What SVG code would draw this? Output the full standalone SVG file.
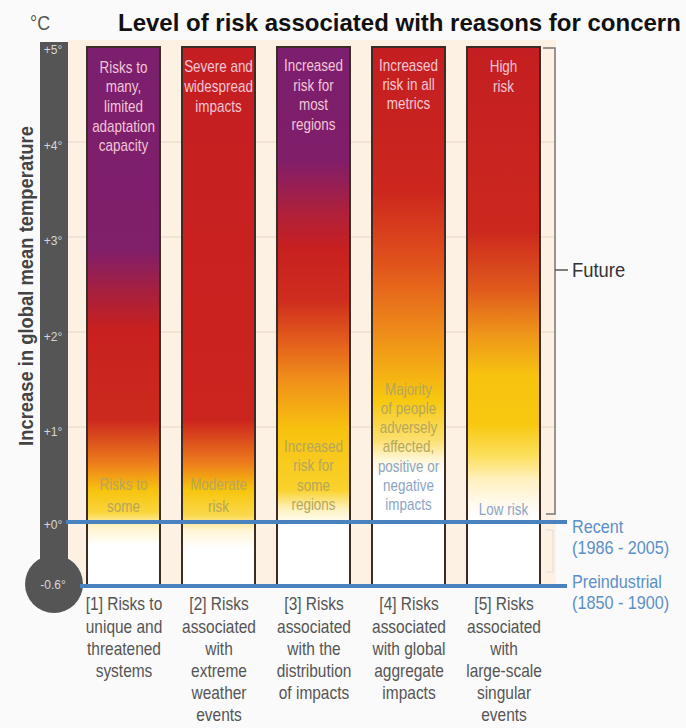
<svg xmlns="http://www.w3.org/2000/svg" width="686" height="728" viewBox="0 0 686 728">
<defs>
<style>
text{font-family:"Liberation Sans",Arial,sans-serif}
.title{font-weight:bold;font-size:24px;fill:#111}
.unit{font-size:21px;fill:#555}
.axis{font-weight:bold;font-size:20px;fill:#444}
.tick{font-size:12px;fill:#d8d8d8;text-anchor:middle}
.top{font-size:16px;fill:#f3c6d6;text-anchor:middle}
.low{font-size:16px;fill:#b5a65c;text-anchor:middle}
.lowb{font-size:16px;fill:#8ca5c4;text-anchor:middle}
.lab{font-size:18px;fill:#555;text-anchor:middle}
.ref{font-size:18px;fill:#5b8fc7}
.fut{font-size:20px;fill:#333}
.bar{stroke:#3d2b25;stroke-width:2}
.grid{stroke:#e6d4c0;stroke-width:1}
.blue{stroke:#4a82c0;stroke-width:4}
</style>
<linearGradient id="g1" x1="0" y1="0" x2="0" y2="1">
<stop offset="0" stop-color="#7b1f6e"/>
<stop offset="0.377" stop-color="#801f6a"/>
<stop offset="0.45" stop-color="#a52040"/>
<stop offset="0.525" stop-color="#c8201f"/>
<stop offset="0.692" stop-color="#cc2a1e"/>
<stop offset="0.77" stop-color="#ec7a1c"/>
<stop offset="0.822" stop-color="#f7c30e"/>
<stop offset="0.863" stop-color="#fad53a"/>
<stop offset="0.889" stop-color="#fff3c8"/>
<stop offset="0.924" stop-color="#ffffff"/>
<stop offset="1" stop-color="#ffffff"/>
</linearGradient>
<linearGradient id="g2" x1="0" y1="0" x2="0" y2="1">
<stop offset="0" stop-color="#c41e22"/>
<stop offset="0.692" stop-color="#cc241e"/>
<stop offset="0.77" stop-color="#ec7a1c"/>
<stop offset="0.822" stop-color="#f7c50c"/>
<stop offset="0.868" stop-color="#fad84a"/>
<stop offset="0.896" stop-color="#fff5d5"/>
<stop offset="0.93" stop-color="#ffffff"/>
<stop offset="1" stop-color="#ffffff"/>
</linearGradient>
<linearGradient id="g3" x1="0" y1="0" x2="0" y2="1">
<stop offset="0" stop-color="#7b1f6e"/>
<stop offset="0.21" stop-color="#801e6a"/>
<stop offset="0.31" stop-color="#b0203a"/>
<stop offset="0.377" stop-color="#c8201f"/>
<stop offset="0.47" stop-color="#cf2d1e"/>
<stop offset="0.544" stop-color="#e25c1c"/>
<stop offset="0.618" stop-color="#f0901a"/>
<stop offset="0.71" stop-color="#f7c20f"/>
<stop offset="0.822" stop-color="#f9d22c"/>
<stop offset="0.855" stop-color="#fdf0b8"/>
<stop offset="0.887" stop-color="#ffffff"/>
<stop offset="1" stop-color="#ffffff"/>
</linearGradient>
<linearGradient id="g4" x1="0" y1="0" x2="0" y2="1">
<stop offset="0" stop-color="#c41e22"/>
<stop offset="0.265" stop-color="#cc261e"/>
<stop offset="0.395" stop-color="#e0501c"/>
<stop offset="0.525" stop-color="#ee8a1a"/>
<stop offset="0.6" stop-color="#f4ad14"/>
<stop offset="0.655" stop-color="#f7c80f"/>
<stop offset="0.73" stop-color="#fbe070"/>
<stop offset="0.766" stop-color="#fff6d8"/>
<stop offset="0.794" stop-color="#ffffff"/>
<stop offset="1" stop-color="#ffffff"/>
</linearGradient>
<linearGradient id="g5" x1="0" y1="0" x2="0" y2="1">
<stop offset="0" stop-color="#c41e22"/>
<stop offset="0.34" stop-color="#cc281e"/>
<stop offset="0.45" stop-color="#e05a1c"/>
<stop offset="0.534" stop-color="#ee961a"/>
<stop offset="0.609" stop-color="#f7c30f"/>
<stop offset="0.70" stop-color="#f8c810"/>
<stop offset="0.757" stop-color="#fbdf5a"/>
<stop offset="0.803" stop-color="#fff1c0"/>
<stop offset="0.85" stop-color="#fffaf0"/>
<stop offset="0.878" stop-color="#ffffff"/>
<stop offset="1" stop-color="#ffffff"/>
</linearGradient>
</defs>
<rect x="0" y="0" width="686" height="728" fill="#fafafa"/>
<g id="title">
<text class="unit" transform="translate(30,30) scale(0.85,1)">°C</text>
<text class="title" x="118" y="31">Level of risk associated with reasons for concern</text>
</g>
<g id="panel">
<rect x="68" y="40" width="488" height="548" fill="#fdf1e3"/>
<line class="grid" x1="68" y1="142" x2="556" y2="142"/>
<line class="grid" x1="68" y1="237" x2="556" y2="237"/>
<line class="grid" x1="68" y1="332" x2="556" y2="332"/>
<line class="grid" x1="68" y1="427" x2="556" y2="427"/>
</g>
<g id="thermometer">
<rect x="40" y="42" width="28" height="530" fill="#555"/>
<circle cx="54" cy="584" r="29" fill="#555"/>
<text class="tick" x="53" y="54">+5°</text>
<text class="tick" x="53" y="150">+4°</text>
<text class="tick" x="53" y="245">+3°</text>
<text class="tick" x="53" y="341">+2°</text>
<text class="tick" x="53" y="436">+1°</text>
<text class="tick" x="53" y="529">+0°</text>
<text class="tick" x="53" y="589">-0.6°</text>
</g>
<g id="axis-label">
<text class="axis" transform="translate(33,286) rotate(-90) scale(0.92,1)" text-anchor="middle">Increase in global mean temperature</text>
</g>
<g id="bar1">
<rect class="bar" x="87" y="47" width="73" height="539" fill="url(#g1)"/>
<g transform="translate(123.5,0) scale(0.84,1)">
<text class="top" x="0" y="73">Risks to</text>
<text class="top" x="0" y="92.5">many,</text>
<text class="top" x="0" y="112">limited</text>
<text class="top" x="0" y="132">adaptation</text>
<text class="top" x="0" y="151.5">capacity</text>
<text class="low" x="0" y="490">Risks to</text>
<text class="low" x="0" y="512">some</text>
</g>
<g transform="translate(124,0) scale(0.86,1)">
<text class="lab" x="0" y="610">[1] Risks to</text>
<text class="lab" x="0" y="633">unique and</text>
<text class="lab" x="0" y="655">threatened</text>
<text class="lab" x="0" y="677">systems</text>
</g>
</g>
<g id="bar2">
<rect class="bar" x="182" y="47" width="73" height="539" fill="url(#g2)"/>
<g transform="translate(218.5,0) scale(0.84,1)">
<text class="top" x="0" y="72">Severe and</text>
<text class="top" x="0" y="92">widespread</text>
<text class="top" x="0" y="112">impacts</text>
<text class="low" x="0" y="490">Moderate</text>
<text class="low" x="0" y="512">risk</text>
</g>
<g transform="translate(219,0) scale(0.86,1)">
<text class="lab" x="0" y="610">[2] Risks</text>
<text class="lab" x="0" y="633">associated</text>
<text class="lab" x="0" y="655">with</text>
<text class="lab" x="0" y="677">extreme</text>
<text class="lab" x="0" y="699">weather</text>
<text class="lab" x="0" y="721">events</text>
</g>
</g>
<g id="bar3">
<rect class="bar" x="277" y="47" width="73" height="539" fill="url(#g3)"/>
<g transform="translate(313.5,0) scale(0.84,1)">
<text class="top" x="0" y="71">Increased</text>
<text class="top" x="0" y="91">risk for</text>
<text class="top" x="0" y="110">most</text>
<text class="top" x="0" y="130">regions</text>
<text class="low" x="0" y="452">Increased</text>
<text class="low" x="0" y="471.5">risk for</text>
<text class="low" x="0" y="491">some</text>
<text class="low" x="0" y="510.5">regions</text>
</g>
<g transform="translate(314,0) scale(0.86,1)">
<text class="lab" x="0" y="610">[3] Risks</text>
<text class="lab" x="0" y="633">associated</text>
<text class="lab" x="0" y="655">with the</text>
<text class="lab" x="0" y="677">distribution</text>
<text class="lab" x="0" y="699">of impacts</text>
</g>
</g>
<g id="bar4">
<rect class="bar" x="372" y="47" width="73" height="539" fill="url(#g4)"/>
<g transform="translate(408.5,0) scale(0.84,1)">
<text class="top" x="0" y="71">Increased</text>
<text class="top" x="0" y="90">risk in all</text>
<text class="top" x="0" y="109">metrics</text>
<text class="low" x="0" y="395">Majority</text>
<text class="low" x="0" y="414">of people</text>
<text class="low" x="0" y="433">adversely</text>
<text class="low" x="0" y="452.5">affected,</text>
<text class="lowb" x="0" y="472">positive or</text>
<text class="lowb" x="0" y="491">negative</text>
<text class="lowb" x="0" y="510">impacts</text>
</g>
<g transform="translate(409,0) scale(0.86,1)">
<text class="lab" x="0" y="610">[4] Risks</text>
<text class="lab" x="0" y="633">associated</text>
<text class="lab" x="0" y="655">with global</text>
<text class="lab" x="0" y="677">aggregate</text>
<text class="lab" x="0" y="699">impacts</text>
</g>
</g>
<g id="bar5">
<rect class="bar" x="467" y="47" width="73" height="539" fill="url(#g5)"/>
<g transform="translate(503.5,0) scale(0.84,1)">
<text class="top" x="0" y="72">High</text>
<text class="top" x="0" y="92">risk</text>
<text class="lowb" x="0" y="515">Low risk</text>
</g>
<g transform="translate(504,0) scale(0.86,1)">
<text class="lab" x="0" y="610">[5] Risks</text>
<text class="lab" x="0" y="633">associated</text>
<text class="lab" x="0" y="655">with</text>
<text class="lab" x="0" y="677">large-scale</text>
<text class="lab" x="0" y="699">singular</text>
<text class="lab" x="0" y="721">events</text>
</g>
</g>
<g id="connectors">
<polyline points="543,48 555,48 555,514 546,514" fill="none" stroke="#777" stroke-width="1.5"/>
<line x1="555" y1="270" x2="568" y2="270" stroke="#555" stroke-width="1.5"/>
<polyline points="546,530 553,530 553,572 546,572" fill="none" stroke="#ddd" stroke-width="1"/>
<line class="blue" x1="66" y1="522" x2="567" y2="522"/>
<line class="blue" x1="80" y1="586" x2="567" y2="586"/>
</g>
<g id="labels">
<text class="fut" transform="translate(572,277) scale(0.92,1)">Future</text>
<g transform="translate(572,0) scale(0.9,1)">
<text class="ref" x="0" y="533">Recent</text>
<text class="ref" x="0" y="554">(1986 - 2005)</text>
<text class="ref" x="0" y="588">Preindustrial</text>
<text class="ref" x="0" y="609">(1850 - 1900)</text>
</g>
</g>
</svg>
